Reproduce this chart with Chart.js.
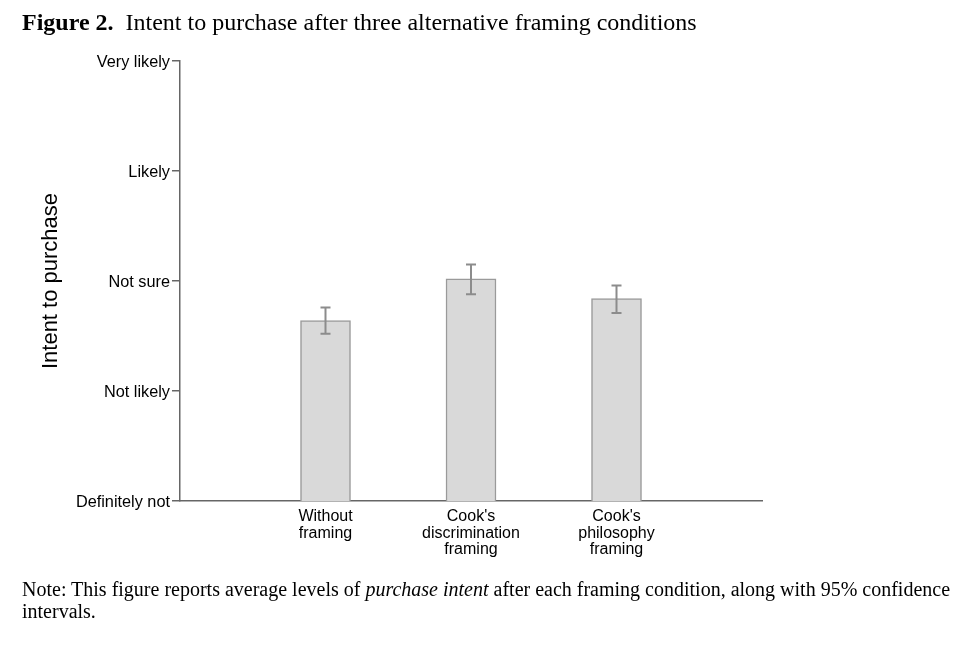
<!DOCTYPE html>
<html>
<head>
<meta charset="utf-8">
<script src="https://cdn.jsdelivr.net/npm/chart.js@4/dist/chart.umd.min.js"></script>
<style>
  html, body { margin: 0; padding: 0; background: #fff; }
  body { width: 980px; height: 654px; position: relative; overflow: hidden; }
  #chartWrap { position: absolute; left: 0; top: 0; width: 980px; height: 654px; }
  .caption { position: absolute; left: 22px; font-family: "Liberation Serif", "Times New Roman", serif; color: #000; white-space: nowrap; }
  #title { top: 8px; font-size: 24px; line-height: 28px; }
  #note { top: 578px; font-size: 20px; line-height: 22px; }
</style>
</head>
<body>
<div id="chartWrap"><canvas id="myChart" width="980" height="654"></canvas></div>
<div id="title" class="caption"><b>Figure 2.</b>&nbsp; Intent to purchase after three alternative framing conditions</div>
<div id="note" class="caption">Note: This figure reports average levels of <i>purchase intent</i> after each framing condition, along with 95% confidence<br>intervals.</div>
<script>
const categories = [['Without', 'framing'], ["Cook's", 'discrimination', 'framing'], ["Cook's", 'philosophy', 'framing']];
const meanIntent = [2.64, 3.02, 2.84];
const ciLow = [2.52, 2.88, 2.71];
const ciHigh = [2.76, 3.15, 2.96];
const yTickLabels = ['Definitely not', 'Not likely', 'Not sure', 'Likely', 'Very likely'];

// empty slots at both ends so bars sit at 1/4, 2/4, 3/4 of the axis
const labels = [''].concat(categories, ['']);
const padded = arr => [null].concat(arr, [null]);

const errorBars = {
    id: 'errorBars',
    afterDatasetsDraw(chart) {
        const ctx = chart.ctx;
        const y = chart.scales.y;
        const meta = chart.getDatasetMeta(0);
        const lo = padded(ciLow), hi = padded(ciHigh);
        ctx.save();
        ctx.strokeStyle = '#8c8c8c';
        ctx.lineWidth = 2;
        meta.data.forEach((bar, i) => {
            if (lo[i] == null) return;
            const x = bar.x;
            const yl = y.getPixelForValue(lo[i]);
            const yh = y.getPixelForValue(hi[i]);
            ctx.beginPath();
            ctx.moveTo(x, yl); ctx.lineTo(x, yh);
            ctx.moveTo(x - 5, yl); ctx.lineTo(x + 5, yl);
            ctx.moveTo(x - 5, yh); ctx.lineTo(x + 5, yh);
            ctx.stroke();
        });
        ctx.restore();
    }
};

new Chart(document.getElementById('myChart'), {
    type: 'bar',
    data: {
        labels: labels,
        datasets: [{
            data: padded(meanIntent),
            backgroundColor: '#d9d9d9',
            borderColor: '#9a9a9a',
            borderWidth: 1.5,
            barThickness: 50,
        }]
    },
    options: {
        responsive: false,
        animation: false,
        devicePixelRatio: 1,
        layout: { padding: { left: 0, top: 61, right: 218, bottom: 0 } },
        plugins: {
            legend: { display: false },
            tooltip: { enabled: false }
        },
        scales: {
            x: {
                offset: false,
                afterFit: s => { s.height = 153; },
                grid: { display: false, drawTicks: false },
                border: { display: true, color: '#666', width: 1.5 },
                ticks: {
                    padding: 7,
                    maxRotation: 0,
                    autoSkip: false,
                    color: '#000',
                    font: { family: '"Liberation Sans", Arial, sans-serif', size: 16, lineHeight: 1.05 }
                }
            },
            y: {
                min: 1,
                max: 5,
                afterFit: s => { s.width = 180; },
                grid: { drawOnChartArea: false, drawTicks: true, tickLength: 8, color: '#666', lineWidth: 1.5 },
                border: { display: true, color: '#666', width: 1.5 },
                ticks: {
                    stepSize: 1,
                    padding: 2,
                    labelOffset: 2,
                    color: '#000',
                    font: { family: '"Liberation Sans", Arial, sans-serif', size: 16.3 },
                    callback: v => yTickLabels[v - 1]
                },
                title: {
                    display: true,
                    text: 'Intent to purchase',
                    color: '#000',
                    padding: { top: 38, bottom: 0 },
                    font: { family: '"Liberation Sans", Arial, sans-serif', size: 22 }
                }
            }
        }
    },
    plugins: [errorBars]
});
</script>
</body>
</html>
